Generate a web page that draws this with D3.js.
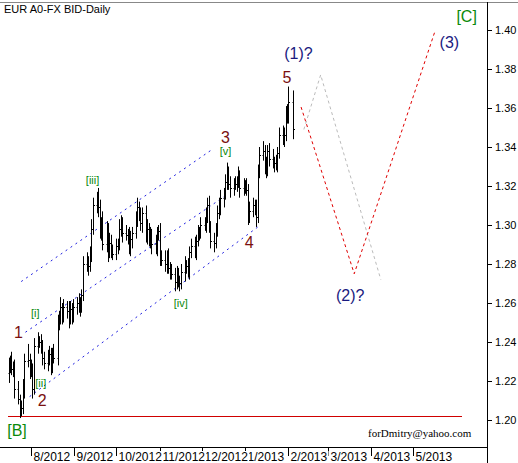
<!DOCTYPE html>
<html>
<head>
<meta charset="UTF-8">
<script src="https://cdnjs.cloudflare.com/ajax/libs/d3/7.8.5/d3.min.js"></script>
<style>
  body { margin: 0; background: #fff; }
  svg { display: block; font-family: Arial, sans-serif; }
</style>
</head>
<body>
<svg width="518" height="463"></svg>
<script>
// closes per month, Jul 16 2012 .. Feb 4 2013 (weekdays)
const closes = [
  1.228,1.230,1.226,1.228,1.216,1.211,1.207,1.206,1.215,1.230,1.231,1.226,
  1.226,1.216,1.238,1.240,1.240,1.239,1.232,1.229,1.231,1.234,1.228,1.233,1.232,1.251,1.252,1.258,1.253,1.258,1.256,1.252,1.257,1.253,1.258,
  1.260,1.258,1.259,1.264,1.280,1.281,1.279,1.285,1.298,1.310,1.314,1.309,1.296,1.301,1.290,1.298,1.286,1.291,1.287,1.285,
  1.289,1.290,1.298,1.301,1.296,1.295,1.294,1.288,1.293,1.296,1.303,1.309,1.305,1.301,1.306,1.294,1.298,1.292,1.295,1.290,1.288,1.295,1.297,
  1.284,1.282,1.280,1.284,1.278,1.276,1.275,1.271,1.274,1.271,1.270,1.276,1.279,1.279,1.276,1.286,1.289,1.287,1.292,1.296,1.296,1.300,
  1.300,1.306,1.310,1.299,1.292,1.291,1.298,1.306,1.309,1.314,1.316,1.322,1.327,1.321,1.319,1.321,1.321,1.322,1.325,1.319,1.320,
  1.320,1.318,1.305,1.307,1.310,1.309,1.304,1.328,1.336,1.338,1.331,1.328,1.338,1.334,1.332,1.332,1.331,1.337,1.346,1.345,1.346,1.358,1.356,
  1.363,1.349
];
// high / low extension beyond open-close body, in 0.001
const hiOff = [
  4,3,5,2,3,4,2,3,6,4,8,3,
  5,3,4,5,3,4,2,3,5,4,3,4,6,3,4,5,2,4,3,5,4,3,4,
  3,5,4,3,4,5,3,4,5,4,3,5,4,3,6,4,3,5,4,3,
  4,3,5,4,3,4,3,5,4,3,4,5,3,4,3,4,5,3,4,3,5,4,3,
  4,3,5,3,4,3,4,3,5,4,3,4,5,3,4,3,4,5,3,4,3,4,
  4,3,4,5,3,4,3,4,5,4,3,4,5,3,4,3,4,3,5,3,4,
  3,4,3,5,4,3,4,3,4,5,3,4,3,4,5,3,4,3,4,5,4,3,4,
  8,6
];
const loOff = [
  5,4,3,4,5,3,6,4,3,4,3,5,
  4,5,3,4,3,5,4,3,4,3,5,4,3,4,5,3,4,3,4,5,3,4,3,
  4,3,5,4,3,4,5,3,4,3,4,5,3,4,3,4,5,3,4,3,
  3,4,3,4,5,3,4,3,4,5,3,4,3,4,5,3,4,3,4,5,3,4,3,
  5,3,4,5,3,4,3,5,4,3,4,3,5,4,3,4,3,4,5,3,4,3,
  3,4,5,3,4,5,3,4,3,4,5,3,4,3,5,4,3,4,3,5,4,
  4,3,5,4,3,4,5,3,4,3,5,4,3,4,3,5,3,4,3,4,5,3,4,
  4,5
];
const firstOpen = 1.224;

const monthTicks = ["2012-08-01","2012-09-01","2012-10-01","2012-11-01","2012-12-01","2013-01-01","2013-02-01","2013-03-01","2013-04-01","2013-05-01"];
const monthLabels = ["8/2012","9/2012","10/2012","11/2012","12/2012","1/2013","2/2013","3/2013","4/2013","5/2013"];
const priceTicks = [1.20,1.22,1.24,1.26,1.28,1.30,1.32,1.34,1.36,1.38,1.40];

// channel lines [date, price]
const channelUpper = [["2012-07-25",1.271],["2012-12-09",1.339]];
const channelMid = [["2012-07-28",1.245],["2012-12-20",1.316]];
const channelLow = [["2012-07-31",1.212],["2013-01-12",1.300]];
const redPath = [["2013-02-10",1.3605],["2013-03-20",1.275],["2013-05-17",1.400]];
const greyPath = [["2013-02-12",1.349],["2013-02-24",1.377],["2013-04-08",1.272]];
const supportLevel = 1.202;

const labels = [
  {t:"[C]", d:"2013-06-01", p:1.404, c:"#0a8a0a", s:16},
  {t:"(3)", d:"2013-05-20", p:1.391, c:"#1a1a80", s:16},
  {t:"(1)?", d:"2013-01-29", p:1.385, c:"#1a1a80", s:16},
  {t:"5", d:"2013-01-31", p:1.373, c:"#7a1010", s:16, a:"middle"},
  {t:"3", d:"2012-12-18", p:1.342, c:"#7a1010", s:16, a:"middle"},
  {t:"[v]", d:"2012-12-18", p:1.336, c:"#0a8a0a", s:11, a:"middle"},
  {t:"4", d:"2013-01-04", p:1.288, c:"#7a1010", s:16, a:"middle"},
  {t:"[iii]", d:"2012-09-14", p:1.321, c:"#0a8a0a", s:11, a:"middle"},
  {t:"[iv]", d:"2012-11-16", p:1.258, c:"#0a8a0a", s:11, a:"middle"},
  {t:"[i]", d:"2012-08-04", p:1.253, c:"#0a8a0a", s:11, a:"middle"},
  {t:"[ii]", d:"2012-08-08", p:1.217, c:"#0a8a0a", s:11, a:"middle"},
  {t:"1", d:"2012-07-23", p:1.242, c:"#7a1010", s:16, a:"middle"},
  {t:"2", d:"2012-08-09", p:1.207, c:"#7a1010", s:16, a:"middle"},
  {t:"(2)?", d:"2013-03-07", p:1.261, c:"#1a1a80", s:16},
  {t:"[B]", d:"2012-07-15", p:1.192, c:"#0a8a0a", s:16}
];

const svg = d3.select("svg");
const parse = d3.timeParse("%Y-%m-%d");
const x = d3.scaleTime().domain([parse("2012-08-01"), parse("2013-05-01")]).range([31, 413]);
const y = d3.scaleLinear().domain([1.20, 1.40]).range([420, 30]);

// trading days
const days = [];
for (let d = parse("2012-07-16"); days.length < closes.length; d = d3.timeDay.offset(d, 1)) {
  if (d.getDay() !== 0 && d.getDay() !== 6) days.push(new Date(d));
}

// frame
svg.append("line").attr("x1", 0).attr("x2", 518).attr("y1", 2.5).attr("y2", 2.5).attr("stroke", "#888");
svg.append("line").attr("x1", 0).attr("x2", 487).attr("y1", 447.5).attr("y2", 447.5).attr("stroke", "#000");
svg.append("line").attr("x1", 487.5).attr("x2", 487.5).attr("y1", 2).attr("y2", 463).attr("stroke", "#000");

// price axis
const ya = svg.append("g");
priceTicks.forEach(p => {
  ya.append("line").attr("x1", 487).attr("x2", 492).attr("y1", Math.round(y(p)) + 0.5).attr("y2", Math.round(y(p)) + 0.5).attr("stroke", "#000");
  ya.append("text").attr("x", 495).attr("y", y(p) + 4).attr("font-size", 11).text(p.toFixed(2));
});

// month axis (drawn right to left so earlier labels cover later ones)
for (let i = monthTicks.length - 1; i >= 0; i--) {
  const tx = Math.round(x(parse(monthTicks[i]))) + 0.5;
  const g = svg.append("g");
  g.append("line").attr("x1", tx).attr("x2", tx).attr("y1", 447).attr("y2", 456).attr("stroke", "#000");
  const bg = g.append("rect").attr("fill", "#fff");
  const t = g.append("text").attr("x", tx + 2).attr("y", 461).attr("font-size", 12).text(monthLabels[i]);
  const bb = t.node().getBBox();
  bg.attr("x", bb.x).attr("y", 451).attr("width", bb.width + 1).attr("height", 12);
}

// support line
svg.append("line").attr("x1", 8).attr("x2", 462).attr("y1", Math.round(y(supportLevel)) + 0.5).attr("y2", Math.round(y(supportLevel)) + 0.5).attr("stroke", "#d00000");

const line = d3.line().x(d => x(parse(d[0]))).y(d => y(d[1]));
[channelUpper, channelMid, channelLow].forEach(c => {
  svg.append("path").attr("d", line(c)).attr("fill", "none").attr("stroke", "#2020e0").attr("stroke-dasharray", "2,4");
});
svg.append("path").attr("d", line(greyPath)).attr("fill", "none").attr("stroke", "#bbb").attr("stroke-dasharray", "3,3");
svg.append("path").attr("d", line(redPath)).attr("fill", "none").attr("stroke", "#e00000").attr("stroke-dasharray", "3,3");

// OHLC bars
const bars = svg.append("g").attr("stroke", "#000").attr("stroke-width", 1);
closes.forEach((c, i) => {
  const o = i === 0 ? firstOpen : closes[i - 1];
  const hi = Math.max(o, c) + hiOff[i] / 1000;
  const lo = Math.min(o, c) - loOff[i] / 1000;
  const bx = Math.round(x(days[i])) + 0.5;
  bars.append("line").attr("x1", bx).attr("x2", bx).attr("y1", y(hi)).attr("y2", y(lo));
  bars.append("line").attr("x1", bx - 1).attr("x2", bx).attr("y1", Math.round(y(o)) + 0.5).attr("y2", Math.round(y(o)) + 0.5);
  bars.append("line").attr("x1", bx).attr("x2", bx + 1.5).attr("y1", Math.round(y(c)) + 0.5).attr("y2", Math.round(y(c)) + 0.5);
});

// wave labels
labels.forEach(l => {
  svg.append("text").attr("x", x(parse(l.d))).attr("y", y(l.p))
    .attr("font-size", l.s).attr("fill", l.c).attr("text-anchor", l.a || "start").text(l.t);
});

svg.append("text").attr("x", 4).attr("y", 13).attr("font-size", 11).text("EUR A0-FX BID-Daily");
svg.append("text").attr("x", 368).attr("y", 437).attr("font-size", 11)
  .attr("font-family", "Liberation Serif, serif").text("forDmitry@yahoo.com");
</script>
</body>
</html>
